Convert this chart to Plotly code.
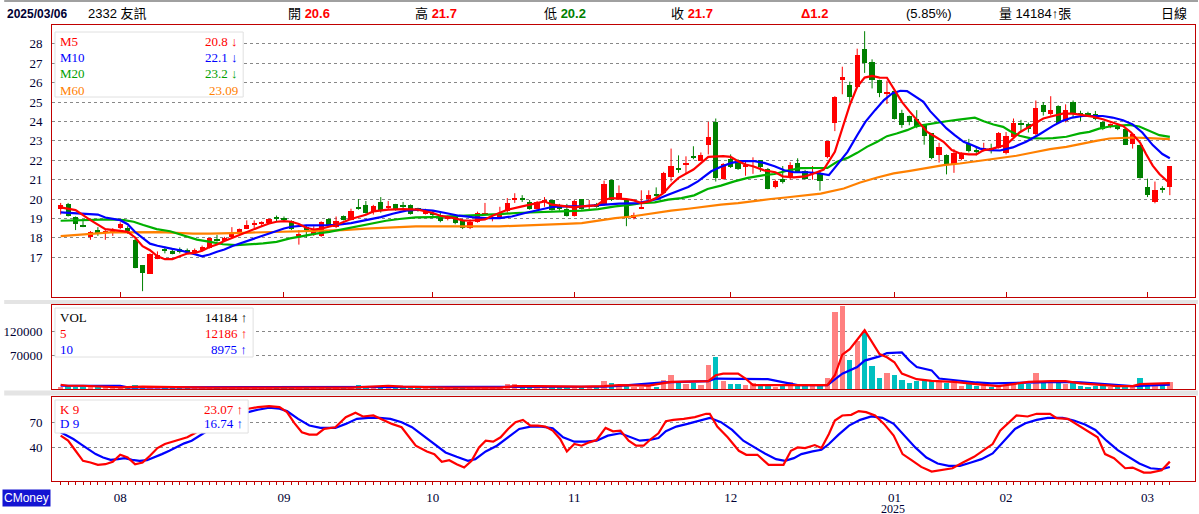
import numpy as np
import plotly.graph_objects as go

# 2332 友訊 daily candles, 2024/07/18 .. 2025/03/06 (150 trading days)
opens = [19.5, 19.75, 19.07, 18.67, 18.05, 18.4, 18.25, 18.3, 18.5, 18.5,
         17.9, 16.6, 16.16, 16.9, 17.4, 17.3, 17.4, 17.35, 17.3, 17.35,
         17.5, 17.9, 17.85, 18.02, 18.22, 18.45, 18.7, 18.75, 18.78, 19.02,
         19.0, 18.88, 18.1, 18.55, 18.15, 18.1, 18.97, 18.55, 19.14, 18.93,
         19.57, 19.69, 19.36, 19.84, 19.55, 19.74, 19.7, 19.7, 19.5, 19.22,
         19.25, 19.19, 18.95, 19.07, 18.93, 18.5, 18.82, 19.2, 19.0, 19.02,
         19.36, 20.0, 20.05, 19.84, 19.5, 19.85, 19.93, 19.6, 19.5, 19.14,
         19.98, 19.6, 19.76, 19.7, 20.98, 20.05, 19.98, 19.0, 19.5, 19.98,
         20.2, 20.33, 21.14, 21.55, 21.77, 22.2, 21.98, 22.8, 23.95, 21.04,
         22.05, 22.0, 21.7, 21.95, 22.0, 21.55, 20.6, 21.05, 21.07, 21.84,
         21.45, 21.3, 21.33, 22.18, 23.93, 26.16, 25.87, 25.78, 27.73, 27.04,
         26.13, 25.45, 25.56, 24.46, 24.29, 24.12, 23.8, 23.38, 22.26, 22.26,
         21.83, 22.06, 22.86, 22.5, 22.55, 22.6, 22.64, 22.35, 23.22, 23.94,
         23.85, 23.34, 24.85, 24.4, 24.8, 24.0, 25.0, 24.4, 24.43, 24.4,
         23.97, 23.73, 23.8, 23.63, 22.83, 22.78, 20.64, 19.84, 20.53, 20.6]
highs = [19.8, 19.8, 19.1, 18.9, 18.35, 18.55, 18.4, 18.5, 18.8, 18.6,
         17.95, 16.6, 17.2, 17.3, 17.55, 17.45, 17.5, 17.45, 17.45, 17.6,
         18.0, 18.15, 18.05, 18.55, 18.48, 18.9, 18.9, 18.85, 19.0, 19.15,
         19.1, 18.9, 18.4, 18.65, 18.6, 18.85, 19.0, 19.1, 19.15, 19.5,
         20.0, 19.9, 19.7, 20.1, 19.9, 19.75, 19.85, 19.72, 19.55, 19.5,
         19.4, 19.3, 19.15, 19.1, 18.98, 18.95, 19.35, 19.8, 19.15, 19.6,
         20.05, 20.3, 20.2, 19.95, 19.9, 20.1, 19.95, 19.75, 19.75, 19.95,
         20.0, 19.95, 19.8, 20.95, 21.0, 20.7, 20.0, 19.3, 20.45, 20.45,
         20.6, 21.4, 22.6, 22.25, 22.2, 22.72, 22.4, 23.98, 24.15, 21.85,
         22.3, 22.05, 22.0, 22.15, 22.0, 21.6, 21.0, 21.7, 21.9, 22.1,
         21.5, 21.7, 21.4, 23.0, 25.3, 26.82, 26.05, 27.75, 28.65, 27.2,
         26.15, 26.1, 25.6, 24.6, 24.3, 24.58, 23.85, 23.4, 22.9, 22.3,
         22.57, 22.4, 23.1, 22.7, 22.9, 22.85, 23.45, 23.45, 24.15, 24.08,
         23.94, 25.08, 25.0, 25.3, 24.83, 24.88, 25.08, 24.55, 24.5, 24.54,
         24.0, 23.9, 23.85, 23.66, 23.4, 22.8, 21.05, 20.9, 20.66, 21.7]
lows = [19.2, 19.1, 18.4, 18.55, 17.9, 18.1, 17.9, 18.1, 18.45, 18.2,
        16.43, 15.25, 16.15, 16.9, 17.2, 17.15, 17.2, 17.2, 17.2, 17.3,
        17.45, 17.8, 17.8, 17.98, 18.2, 18.45, 18.5, 18.6, 18.75, 18.85,
        18.85, 18.4, 17.65, 18.0, 18.1, 18.05, 18.55, 18.5, 18.9, 18.9,
        19.45, 19.25, 19.2, 19.3, 19.45, 19.4, 19.5, 19.2, 19.35, 19.2,
        19.1, 18.8, 18.9, 18.7, 18.45, 18.45, 18.78, 19.15, 18.85, 19.0,
        19.3, 19.8, 19.85, 19.45, 19.45, 19.6, 19.4, 19.4, 19.1, 19.1,
        19.45, 19.45, 19.55, 19.65, 19.9, 20.0, 18.6, 18.95, 19.48, 19.95,
        20.1, 20.3, 20.9, 21.35, 21.3, 22.05, 21.95, 22.3, 20.9, 21.0,
        21.6, 21.5, 21.2, 21.3, 21.4, 20.5, 20.55, 20.8, 21.0, 21.38,
        21.0, 21.0, 20.43, 22.1, 23.5, 25.4, 24.97, 25.75, 26.5, 25.7,
        25.25, 24.9, 24.1, 23.67, 23.8, 23.65, 22.8, 22.05, 21.88, 21.27,
        21.35, 22.0, 22.4, 22.25, 22.45, 22.35, 22.6, 22.3, 23.1, 23.5,
        23.43, 23.3, 24.3, 24.3, 23.9, 23.95, 24.18, 24.02, 24.25, 24.06,
        23.55, 23.65, 23.55, 22.78, 22.6, 21.05, 20.1, 19.78, 20.32, 20.2]
closes = [19.7, 19.15, 18.71, 18.6, 18.3, 18.2, 18.35, 18.35, 18.7, 18.35,
          16.45, 16.2, 17.19, 17.14, 17.35, 17.2, 17.28, 17.3, 17.38, 17.55,
          17.97, 17.85, 18.0, 18.2, 18.43, 18.65, 18.78, 18.82, 18.95, 18.98,
          18.97, 18.45, 18.2, 18.4, 18.45, 18.83, 18.6, 18.85, 18.93, 19.4,
          19.52, 19.28, 19.65, 19.36, 19.6, 19.45, 19.57, 19.22, 19.48, 19.4,
          19.22, 18.85, 19.1, 18.76, 18.5, 18.8, 19.28, 19.25, 19.05, 19.28,
          19.8, 20.03, 19.93, 19.5, 19.84, 19.88, 19.45, 19.47, 19.14, 19.9,
          19.5, 19.65, 19.6, 20.8, 19.95, 20.3, 19.05, 19.2, 19.6, 20.2,
          20.18, 21.36, 21.69, 21.5, 21.83, 22.15, 22.25, 23.2, 21.07, 21.8,
          21.65, 21.55, 21.75, 22.0, 21.65, 20.52, 20.95, 20.87, 21.76, 21.41,
          21.05, 21.35, 20.95, 22.98, 25.27, 26.3, 25.27, 27.42, 27.0, 26.16,
          25.47, 25.5, 24.15, 23.8, 23.98, 23.78, 23.26, 22.12, 22.69, 21.75,
          22.35, 22.35, 22.47, 22.47, 22.6, 22.55, 23.38, 23.24, 23.94, 23.8,
          23.63, 24.68, 24.5, 24.6, 23.94, 24.6, 24.42, 24.37, 24.32, 24.12,
          23.63, 23.85, 23.63, 22.8, 23.34, 21.07, 20.23, 20.49, 20.5, 21.7]
volumes = [4000, 5500, 5000, 3500, 4000, 3000, 2500, 2500, 3500, 3000,
           8000, 6500, 5000, 3500, 2500, 2000, 2000, 1800, 1800, 2500,
           3000, 2500, 2000, 2500, 2500, 3000, 2500, 2000, 2500, 2500,
           2000, 2500, 3000, 2500, 2000, 3000, 2500, 3000, 3000, 6500,
           7500, 4000, 3500, 5000, 3000, 3000, 2500, 3500, 2500, 2500,
           2500, 3000, 2500, 2500, 3000, 2500, 4000, 4000, 2500, 3500,
           10000, 10500, 6000, 5500, 5000, 4500, 4000, 3500, 4000, 4500,
           4000, 3500, 3000, 16000, 11500, 6500, 6000, 3400, 3400, 6100,
           3400, 18400, 28600, 11600, 10200, 11600, 8200, 49000, 67300, 16300,
           10200, 10200, 8200, 11600, 8200, 6100, 3400, 6100, 15000, 6100,
           6100, 8200, 6100, 23800, 161000, 172000, 61200, 100000, 118300, 46900,
           23800, 33300, 28600, 19700, 12900, 16300, 19700, 16300, 15000, 12900,
           11600, 6800, 13600, 6800, 8200, 4800, 3400, 8200, 15000, 10200,
           10200, 33300, 12900, 12900, 15000, 10200, 12900, 6100, 3400, 6800,
           6100, 4500, 5000, 6500, 7000, 22000, 7000, 9500, 8000, 14184]

# month starts (trading-day index) and labels
month_idx = [8, 30, 50, 69, 90, 112, 127, 146]
month_labels = ["08", "09", "10", "11", "12", "01", "02", "03"]

# moving averages (day index, value)
ma5_x = [0, 2, 4, 6, 8, 9, 10, 11, 12, 13, 14, 15, 16, 17, 18, 19, 20, 21, 22, 23, 24, 25, 26, 27, 28, 29, 30, 31, 32, 33, 34, 35, 36, 37,
         39, 41, 42, 44, 46, 48, 50, 51, 53, 54, 55, 57, 58, 59, 60, 62, 63, 64, 65, 66, 68, 69, 70, 72, 73, 74, 76,
         77, 78, 79, 80, 81, 82, 83, 85, 86, 87, 89, 90, 91, 92, 93, 94.5, 96, 97, 98.5, 100, 101, 102.5,
         104, 105, 106, 107, 108, 109, 110, 111, 112, 113, 114, 115, 116.4, 117.5, 118.6, 119.7, 120.8, 122, 123, 124, 125, 126, 127,
         128.8, 130.6, 132, 133.3, 134.6, 136, 137.3, 138.6, 140, 141.3, 142.7, 143.8, 145, 145.8, 146.7, 147.6, 148.5, 149]
ma5_y = [19.57, 19.43, 18.91, 18.45, 18.36, 18.31, 18.02, 17.57, 17.36, 17.05, 16.9, 16.9, 17.05, 17.19, 17.22, 17.33, 17.53, 17.66, 17.84, 18.0, 18.14, 18.28, 18.45, 18.6, 18.74, 18.83, 18.86, 18.83, 18.71, 18.52, 18.43, 18.47, 18.57, 18.66,
         18.97, 19.19, 19.36, 19.45, 19.48, 19.45, 19.28, 19.14, 19.0, 18.9, 18.88, 18.95, 19.14, 19.28, 19.45, 19.62, 19.71, 19.79, 19.88, 19.71, 19.62, 19.57, 19.62, 19.67, 19.95, 20.05, 20.0,
         19.93, 19.79, 19.88, 20.05, 20.31, 20.74, 21.09, 21.52, 21.86, 22.17, 22.21, 22.17, 21.95, 21.78, 21.69, 21.48, 21.38, 21.17, 21.12, 21.17, 21.29, 21.52,
         22.43, 23.63, 24.84, 25.78, 26.26, 26.35, 26.26, 26.25, 25.61, 25.01, 24.53, 24.07, 23.46, 23.21, 22.95, 22.52, 22.35, 22.3, 22.3, 22.52, 22.57, 22.69, 22.78,
         23.43, 23.85, 24.15, 24.28, 24.4, 24.4, 24.32, 24.25, 24.11, 23.94, 23.77, 23.43, 22.91, 22.32, 21.72, 21.29, 20.98, 20.8]
ma10_x = [0, 3, 5, 6, 8, 9, 10, 11, 12, 13, 14, 15, 16, 17, 18, 19, 20, 21, 22, 23, 24, 25, 26, 27, 28, 29, 30, 31, 32, 33, 36,
          37, 39, 41, 43, 44.6, 46.4, 48, 50, 51.7, 53.5, 55.3, 57, 59, 60.6, 62.4, 64.2, 66, 68, 70, 71.3, 73, 75,
          77.6, 78.9, 80.2, 81.6, 82.9, 84.3, 85.6, 86.5, 87.4, 88.7, 90.1, 91.4, 93.2, 94.5, 95.9, 97.2, 98.5, 100.3, 101.6,
          103.2, 104.3, 105.7, 107, 108.1, 109.4, 110.6, 111.7, 112.8, 113.7, 114.6, 115.9, 116.8, 117.9, 119, 120.1, 121.3, 122.4, 123.5, 124.8, 126.2,
          127.9, 129.7, 131.5, 133.3, 134.6, 135.9, 137.3, 138.6, 140, 141.3, 142.7, 144, 145.3, 146.7, 148, 149]
ma10_y = [19.31, 19.26, 19.2, 19.05, 18.91, 18.7, 18.3, 18.0, 17.7, 17.59, 17.5, 17.43, 17.36, 17.28, 17.16, 17.05, 17.14, 17.28, 17.4, 17.57, 17.7, 17.84, 17.97, 18.1, 18.22, 18.34, 18.48, 18.57, 18.62, 18.64, 18.65,
          18.67, 18.76, 18.9, 19.07, 19.24, 19.4, 19.45, 19.4, 19.28, 19.14, 19.07, 19.02, 19.02, 19.1, 19.28, 19.45, 19.59, 19.62, 19.62, 19.66, 19.71, 19.76,
          19.79, 19.88, 20.0, 20.22, 20.4, 20.62, 20.91, 21.17, 21.43, 21.66, 21.86, 21.95, 21.95, 21.86, 21.69, 21.48, 21.38, 21.38, 21.34,
          21.23, 21.75, 22.43, 23.29, 23.98, 24.58, 25.1, 25.44, 25.58, 25.56, 25.35, 25.01, 24.53, 24.07, 23.64, 23.29, 22.95, 22.78, 22.6, 22.52, 22.5,
          22.66, 22.95, 23.34, 23.77, 24.03, 24.2, 24.28, 24.28, 24.28, 24.2, 24.06, 23.85, 23.43, 22.78, 22.32, 22.1]
ma20_x = [0, 2, 4.5, 6.7, 8.5, 9.8, 11.1, 12.9, 14.7, 16.5, 18.3, 20.1, 21.8, 23.6, 25.4, 27.2, 29, 30.8, 32.5, 34.3, 36.1,
          38.3, 40.1, 41.9, 43.7, 45.5, 47.7, 50, 52.2, 54.4, 56.6, 58.9, 61.1, 63.3, 65.5, 67.8, 70, 72.2, 74.5, 76.7,
          78, 79.8, 81.6, 83.4, 85.1, 86.9, 88.7, 90.5, 92.3, 94.1, 95.9, 97.7, 99.4, 101.2,
          103, 104.3, 105.7, 107, 108.3, 109.7, 111, 112.3, 113.7, 115, 116.4, 117.7, 119, 120.4, 121.7, 122.8, 124, 125.3, 126.6,
          127.5, 128.8, 130.2, 132, 133.3, 135.1, 136.9, 138.2, 139.5, 140.9, 142.2, 143.5, 144.9, 146.2, 147.6, 149]
ma20_y = [18.88, 18.91, 18.95, 18.95, 18.91, 18.83, 18.66, 18.45, 18.34, 18.14, 17.91, 17.79, 17.67, 17.62, 17.66, 17.71, 17.79, 17.97, 18.09, 18.22, 18.31,
          18.47, 18.62, 18.76, 18.88, 18.97, 19.05, 19.07, 19.1, 19.14, 19.19, 19.22, 19.28, 19.31, 19.34, 19.34, 19.4, 19.48, 19.62, 19.71,
          19.79, 19.83, 19.97, 20.05, 20.19, 20.52, 20.69, 20.91, 21.09, 21.21, 21.29, 21.47, 21.59, 21.6,
          21.6, 21.92, 22.12, 22.38, 22.69, 22.95, 23.24, 23.38, 23.55, 23.76, 23.86, 23.93, 24.01, 24.08, 24.15, 24.19, 24.01, 23.84, 23.72,
          23.51, 23.26, 23.14, 23.12, 23.14, 23.21, 23.38, 23.46, 23.63, 23.74, 23.77, 23.82, 23.74, 23.51, 23.29, 23.2]
ma60_x = [0, 2.2, 4.5, 6.7, 8.9, 13.4, 17.8, 20.1, 24.5, 29, 33.4, 37.9, 41, 43.2, 45.5, 47.7, 58.9, 63.3, 65.5, 67.8, 70, 72.2, 74.5, 76.7,
          79.8, 82, 84.3, 86.5, 88.7, 91, 93.2, 95.4, 97.7, 99.9, 102.1, 105.2, 107.4, 109.7, 111.9, 114.1, 116.4, 118.6, 120.8, 123, 125.3,
          128.4, 130.6, 132.9, 135.1, 137.3, 139.1, 140.9, 142.7, 144, 146.2, 149]
ma60_y = [18.09, 18.17, 18.22, 18.28, 18.29, 18.29, 18.22, 18.22, 18.26, 18.31, 18.34, 18.4, 18.47, 18.5, 18.55, 18.59, 18.59, 18.64, 18.69, 18.72, 18.76, 18.88, 19.02, 19.1,
          19.28, 19.4, 19.5, 19.62, 19.71, 19.79, 19.91, 20.0, 20.09, 20.17, 20.28, 20.54, 20.85, 21.11, 21.32, 21.45, 21.61, 21.75, 21.83, 21.95, 22.09,
          22.23, 22.4, 22.57, 22.69, 22.88, 23.0, 23.12, 23.17, 23.17, 23.14, 23.09]

# volume moving averages
vma5_x = [0, 1, 3, 6, 8, 11, 14, 20, 39, 41, 44, 46, 52, 59, 61, 64, 67, 70, 73, 75, 79, 82, 87, 88, 89, 91, 92, 93, 103, 104,
          105, 106, 108, 110, 111, 112, 113, 115, 117, 120, 123, 126, 128, 130, 133, 135, 137, 140, 142, 144, 145, 149]
vma5_y = [8800, 6800, 6800, 4500, 3400, 4800, 4000, 2700, 2700, 4800, 6800, 5000, 2700, 2700, 6100, 6100, 4800, 4800, 6100, 8160,
          7000, 15000, 16300, 28600, 32000, 32000, 21800, 8200, 8200, 28600, 71400, 83000, 122400, 72800, 66000, 55800, 32000,
          20400, 17000, 15000, 10200, 6100, 10200, 15000, 16300, 16300, 11600, 8200, 6100, 6100, 10200, 12186]
vma10_x = [0, 8, 9, 40, 41, 52, 53, 60, 61, 73, 75, 81, 87, 88, 95, 97, 99, 103, 105, 107, 108, 110, 111, 113, 114, 115, 117,
           118, 120, 123, 125, 130, 134, 137, 140, 142, 144, 149]
vma10_y = [6800, 6800, 3400, 3400, 4800, 4800, 3400, 3400, 4800, 4800, 6500, 13600, 16300, 21800, 20400, 15000, 8200, 8200,
           32000, 45600, 59200, 68000, 74800, 76200, 59200, 45600, 38800, 21800, 18400, 13600, 11600, 12900, 15000, 13600,
           10200, 8200, 6100, 8975]

# KD(9)
k_x = [0, 1, 2, 3, 4, 5, 6, 7, 8, 9, 10, 11, 12, 13, 14, 15, 16, 17, 18, 19, 20, 21, 22, 23, 24, 25.2, 26.5, 28, 29.4, 30.4,
       31.4, 32.4, 33.4, 34.4, 35.4, 36.9, 38.3, 39.6, 40.6, 42, 43.3, 44.5, 45.8, 46.8, 47.7, 49.2, 50.2, 51.2, 52.2, 53.2,
       54.2, 55.2, 56.2, 57.1, 58.1, 59.1, 60.1, 61.1, 62.1, 63.1, 64.1, 65.1, 66.1, 67.1, 68, 69, 70, 71, 72, 73.2, 74.2, 75.2,
       76.3, 77.3, 78.3, 79.3, 80.3, 81.3, 82.3, 83.7, 85.2, 86.7, 87.2, 88.2, 89.6, 91.1, 92.1, 93.6, 95.1, 97.1, 98.1, 99,
       100, 101.3, 102.2, 103.2, 104, 105, 106.2, 107.2, 108.2, 109.4, 110.6, 111.9, 113.1, 114.3, 115.6, 117, 118.3, 119.8,
       121.2, 122.7, 124.2, 125.2, 126.2, 127.2, 128.4, 129.9, 131.1, 132.9, 133.8, 135.3, 136.8, 138, 139.3, 140.3, 141.5,
       143, 144, 145.5, 146.4, 147.9, 149]
k_y = [54, 48, 36, 24, 22, 19.2, 20, 22.8, 31.2, 28, 20, 22, 30, 39.2, 44, 46.8, 48.8, 52, 56.8, 62, 68, 72, 76, 80, 84, 86,
       88, 89.2, 88, 82, 68.8, 58, 55.2, 55.2, 62, 64, 76, 81.2, 76.8, 78, 72.8, 68, 64, 52, 42, 35.2, 32, 22.8, 24.8, 20, 16,
       24, 40, 48, 46.8, 52, 62, 70, 72.8, 66, 66, 64.8, 60, 50, 35.2, 44, 42, 46, 48.8, 63.2, 59.2, 60,
       48, 42, 42, 50, 56.8, 71.2, 72.8, 74, 76, 80, 80, 64.8, 52, 36, 31.2, 31.2, 19.2, 19.2, 36, 40, 39.2, 42.8, 39.2, 56, 72,
       78, 78.8, 83.2, 82, 78, 68, 54, 32, 24.8, 16.8, 11.2, 12.8, 15.2, 22, 28.8, 38, 44, 60, 68, 78, 76.8, 80, 80, 74.8, 74,
       66, 59.2, 52, 32, 27.2, 15.2, 16, 10, 10, 12.8, 23.07]
d_x = [0, 1.7, 2.7, 3.7, 4.7, 5.7, 6.7, 7.7, 8.6, 9.6, 10.6, 11.6, 12.6, 13.6, 14.6, 15.6, 16.6, 17.6, 18.5, 19.4, 21, 23,
       24.5, 25.2, 26.5, 28, 29.4, 30.4, 31.9, 33.4, 34.9, 36.9, 38.3, 39.8, 41.3, 42.8, 44.3, 45.8, 47.2, 48.7, 50.2, 51.7,
       53.2, 54.7, 55.7, 57.1, 58.6, 60.1, 61.6, 63.1, 64.6, 66.1, 67.5, 69, 70.5, 72, 73.5, 75.2,
       76.8, 77.8, 79.3, 80.3, 81.3, 82.7, 84.2, 85.7, 87.2, 88.7, 90.2, 91.7, 93.2, 94.6, 96.1, 97.3, 98.5, 99.5, 101, 102.2,
       103.2, 104.5, 105.9, 107.4, 108.9, 110.4, 111.9, 113.4, 114.8, 116.3, 117.8, 119.3, 120.8, 122.3, 123.7, 125.2, 126.7,
       128.2, 129.6, 131.1, 132.6, 134.6, 136.1, 137.6, 139, 140.5, 142, 143.5, 144.9, 146.4, 147.9, 149]
d_y = [58, 50, 44, 38, 32, 28, 25.2, 26, 27.2, 25.2, 24, 24.8, 28, 32, 36, 40.8, 44.8, 48, 52.8, 58, 64, 72, 79, 82, 84.8,
       87.2, 86, 83.2, 74, 66, 63.2, 63.2, 68, 74, 75.2, 75.2, 74, 70, 64, 54, 44, 34, 28.8, 24, 26, 35.2, 42, 52, 62, 64.8,
       64.8, 62.8, 52, 46.8, 46.8, 48, 54, 56.8,
       51.2, 48, 49.2, 51.2, 59.2, 64.8, 68, 72, 75.2, 70, 60.8, 48, 40, 32.8, 26, 24, 27.2, 32, 35.2, 37.2, 44, 55.2, 66, 72.8,
       76.8, 75.2, 68, 54, 40, 28, 20.8, 18, 18, 22, 26, 32.8, 48, 62, 68.8, 72.8, 75.2, 75.2, 72, 67.2, 60.8, 48, 36.8, 28,
       20.8, 15.2, 14, 16.74]

# ---------------------------------------------------------------
W, H = 1199, 514
L, R, T, B = 48, 3, 25, 33
PW, PH = W - L - R, H - T - B


def px(x):
    return (x - L) / PW


def py(y):
    return (H - B - y) / PH


RED, GREEN = "#FF0000", "#008000"
BORDER = "#C00000"
SERIF = "Liberation Serif, DejaVu Serif, Noto Sans CJK TC"
SANS = "Liberation Sans, Arial, Noto Sans CJK TC"

o = np.array(opens)
c = np.array(closes)
idx = np.arange(len(opens))
up = c >= o
candle_col = np.where(up, RED, GREEN)
vol_col = np.where(up, "#FF8080", "#00C0C0")

fig = go.Figure()

# wicks
for mask, col in [(up, RED), (~up, GREEN)]:
    wx, wy = [], []
    for i in idx[mask]:
        wx += [i, i, None]
        wy += [lows[i], highs[i], None]
    fig.add_trace(go.Scatter(x=wx, y=wy, mode="lines", line=dict(color=col, width=1),
                             hoverinfo="skip", xaxis="x", yaxis="y"))

# bodies
fig.add_trace(go.Bar(x=idx, y=np.maximum(np.abs(c - o), 0.05), base=np.minimum(o, c),
                     marker=dict(color=candle_col, line=dict(width=0)), width=0.7,
                     xaxis="x", yaxis="y"))

for xs, ys, col in [(ma60_x, ma60_y, "#FF8000"), (ma20_x, ma20_y, "#00B000"),
                    (ma10_x, ma10_y, "#0000FF"), (ma5_x, ma5_y, "#FF0000")]:
    fig.add_trace(go.Scatter(x=xs, y=ys, mode="lines", line=dict(color=col, width=2.2),
                             xaxis="x", yaxis="y"))

# volume
fig.add_trace(go.Bar(x=idx, y=volumes, marker=dict(color=vol_col, line=dict(width=0)), width=0.72,
                     xaxis="x2", yaxis="y2"))
fig.add_trace(go.Scatter(x=vma10_x, y=vma10_y, mode="lines", line=dict(color="#0000FF", width=2.2),
                         xaxis="x2", yaxis="y2"))
fig.add_trace(go.Scatter(x=vma5_x, y=vma5_y, mode="lines", line=dict(color="#FF0000", width=2.2),
                         xaxis="x2", yaxis="y2"))

# KD
fig.add_trace(go.Scatter(x=d_x, y=d_y, mode="lines", line=dict(color="#0000FF", width=2.2),
                         xaxis="x3", yaxis="y3"))
fig.add_trace(go.Scatter(x=k_x, y=k_y, mode="lines", line=dict(color="#FF0000", width=2.2),
                         xaxis="x3", yaxis="y3"))

xr = [-1.164, 152.38]
xbase = dict(range=xr, showline=True, mirror=True, linecolor=BORDER, linewidth=1,
             showgrid=False, zeroline=False, fixedrange=True)
ybase = dict(showline=True, mirror=True, linecolor=BORDER, linewidth=1, zeroline=False,
             showgrid=True, gridcolor="#888888", griddash="dot", gridwidth=1,
             tickfont=dict(family=SERIF, size=13, color="#000033"), ticks="",
             ticklabelstandoff=6, fixedrange=True)

fig.update_layout(
    width=W, height=H, margin=dict(l=L, r=R, t=T, b=B),
    paper_bgcolor="white", plot_bgcolor="white", showlegend=False, bargap=0,
    xaxis=dict(xbase, anchor="y", ticks="inside", ticklen=5, tickcolor=BORDER,
               tickvals=month_idx, showticklabels=False),
    yaxis=dict(ybase, domain=[py(297), 1], range=[14.95, 28.97], tickvals=list(range(17, 29))),
    xaxis2=dict(xbase, anchor="y2", matches="x", showticklabels=False, ticks=""),
    yaxis2=dict(ybase, domain=[py(389), py(305)], range=[0, 175000],
                tickvals=[70000, 120000], ticktext=["70000", "120000"]),
    xaxis3=dict(xbase, anchor="y3", matches="x", ticks="outside", ticklen=3, tickcolor=BORDER,
                tickvals=month_idx, ticktext=month_labels, ticklabelstandoff=1,
                tickfont=dict(family=SERIF, size=13, color="#000033"),
                minor=dict(ticks="outside", ticklen=3, tickcolor=BORDER, tickmode="array",
                           tickvals=list(range(len(opens))))),
    yaxis3=dict(ybase, domain=[0, py(397)], range=[0, 100], tickvals=[40, 70]),
)

shapes = []
# grey separators and top rule
for y0, y1 in [(300, 304), (390.5, 395.5)]:
    shapes.append(dict(type="rect", xref="paper", yref="paper", x0=px(0), x1=px(W), y0=py(y1), y1=py(y0),
                       fillcolor="#E4E4E4", line=dict(width=0), layer="below"))
shapes.append(dict(type="line", xref="paper", yref="paper", x0=px(0), x1=px(W), y0=py(1), y1=py(1),
                   line=dict(color="#A0A0A0", width=2)))
# legend boxes
for x0, y0, x1, y1 in [(51, 32, 240, 97), (51, 308, 250, 357), (51, 400, 245, 433)]:
    shapes.append(dict(type="rect", xref="paper", yref="paper", x0=px(x0), x1=px(x1), y0=py(y1), y1=py(y0),
                       fillcolor="white", line=dict(color="#E0E0E0", width=1), layer="above"))
fig.update_layout(shapes=shapes)

ann = []


def text(x, y, s, color="black", size=13, family=SERIF, anchor="left"):
    ann.append(dict(x=px(x), y=py(y), xref="paper", yref="paper", text=s, showarrow=False,
                    xanchor=anchor, yanchor="middle", font=dict(family=family, size=size, color=color)))


# header
text(1, 14, "<b>2025/03/06</b>", "#000033", 12, SANS)
text(82, 14, "2332 友訊", "black", 13, SANS)
text(283, 14, "開 <b><span style='color:#FF0000'>20.6</span></b>", "black", 13, SANS)
text(411, 14, "高 <b><span style='color:#FF0000'>21.7</span></b>", "black", 13, SANS)
text(540, 14, "低 <b><span style='color:#008000'>20.2</span></b>", "black", 13, SANS)
text(668, 14, "收 <b><span style='color:#FF0000'>21.7</span></b>", "black", 13, SANS)
text(798, 14, "<b>Δ1.2</b>", "#FF0000", 13, SANS)
text(904, 14, "(5.85%)", "black", 13, SANS)
text(997, 14, "量 14184↑張", "black", 13, SANS)
text(1160, 14, "日線", "black", 13, SANS)

# price legend
for y, name, val, col in [(42, "M5", "20.8 ↓", "#FF0000"), (58, "M10", "22.1 ↓", "#0000FF"),
                          (74, "M20", "23.2 ↓", "#00A000"), (90, "M60", "23.09", "#FF8000")]:
    text(54, y, name, col)
    text(237, y, val, col, anchor="right")
# volume legend
for y, name, val, col in [(317, "VOL", "14184 ↑", "black"), (333, "5", "12186 ↑", "#FF0000"),
                          (349, "10", "8975 ↑", "#0000FF")]:
    text(54, y, name, col)
    text(246, y, val, col, anchor="right")
# KD legend
for y, name, val, col in [(409, "K 9", "23.07 ↑", "#FF0000"), (423, "D 9", "16.74 ↑", "#0000FF")]:
    text(54, y, name, col)
    text(242, y, val, col, anchor="right")

text(893, 509, "2025", "#000033", 12, SERIF, anchor="center")
ann.append(dict(x=px(-2), y=py(498), xref="paper", yref="paper", text="CMoney", showarrow=False,
                xanchor="left", yanchor="middle", bgcolor="#1414D2", borderpad=1,
                font=dict(family=SANS, size=12, color="white")))
fig.update_layout(annotations=ann)

# page body has a default 8px margin; drop it so the figure sits at the window's corner
fig.write_html("out.html", config={"displayModeBar": False},
               post_script="document.body.style.margin='0px';")
